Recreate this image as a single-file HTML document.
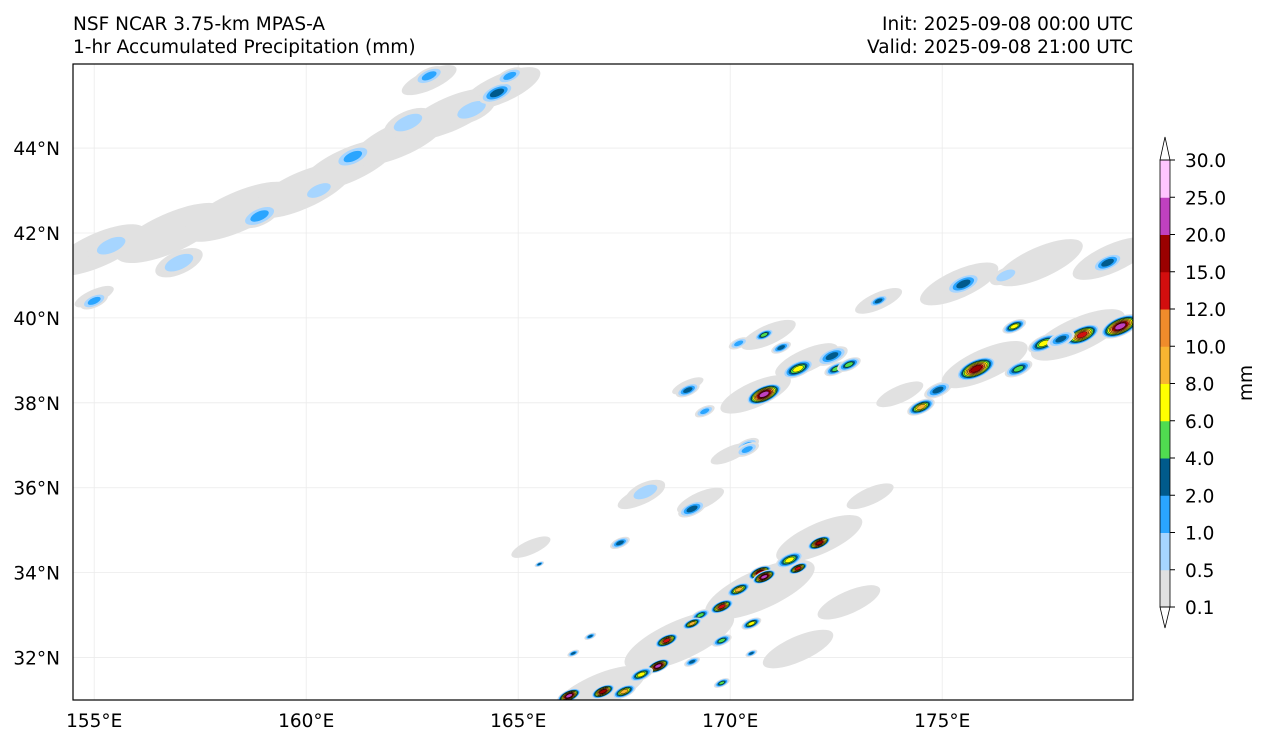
<!DOCTYPE html>
<html><head><meta charset="utf-8"><style>
body{margin:0;background:#fff;font-family:"Liberation Sans","DejaVu Sans",sans-serif;}
svg text{font-family:"DejaVu Sans","Liberation Sans",sans-serif;font-size:18.5px;fill:#000}
</style></head><body>
<svg id="chart" width="1268" height="745" viewBox="0 0 1268 745" xmlns="http://www.w3.org/2000/svg">
<text x="73" y="30">NSF NCAR 3.75-km MPAS-A</text>
<text x="73" y="53">1-hr Accumulated Precipitation (mm)</text>
<text x="1133" y="30" text-anchor="end">Init: 2025-09-08 00:00 UTC</text>
<text x="1133" y="53" text-anchor="end">Valid: 2025-09-08 21:00 UTC</text>
<defs><clipPath id="mapclip"><rect x="73" y="64" width="1060" height="636"/></clipPath></defs>
<g id="grid"></g>
<g id="cells" clip-path="url(#mapclip)"></g>
<rect x="73" y="64" width="1060" height="636" fill="none" stroke="#000" stroke-width="1.2"/>
<g id="axes"></g>
<g id="cbar"></g>
<text transform="translate(1252,383) rotate(-90)" text-anchor="middle">mm</text>
</svg>
<script>
const lonTicks=[155,160,165,170,175];
const latTicks=[32,34,36,38,40,42,44];
const levels=[0.1,0.5,1,2,4,6,8,10,12,15,20,25,30];
const levelColors=['#e1e1e1','#a6d5ff','#2aa5ff','#005a8c','#50dc50','#ffff00','#f8b431','#ef8c2b','#d20e0e','#9a0000','#c040c0','#ffc5ff'];
// broad light precipitation areas
const bandLon=[155.1,156.8,158.4,159.9,161.0,162.2,163.4,164.6,162.9,155.0,173.5,175.4,177.3,179.0,170.6,170.0,171.8,174.0,176.0,178.2,166.9,168.8,170.7,172.1,173.3,171.6,172.8,167.9,169.3,165.3,170.9,169.0];
const bandLat=[41.6,42.0,42.5,43.0,43.6,44.2,44.8,45.4,45.6,40.5,40.4,40.8,41.3,41.4,38.2,36.8,39.0,38.2,38.9,39.6,31.2,32.4,33.6,34.8,35.8,32.2,33.3,35.8,35.7,34.6,39.6,38.4];
const bandVal=[0.3,0.3,0.3,0.3,0.3,0.3,0.3,0.3,0.3,0.3,0.3,0.3,0.3,0.3,0.3,0.3,0.3,0.3,0.3,0.3,0.3,0.3,0.3,0.3,0.3,0.3,0.3,0.3,0.3,0.3,0.3,0.3];
const bandSize=[1.2,1.4,1.4,1.3,1.2,1.2,1.2,1.0,0.7,0.5,0.6,1.0,1.1,1.0,0.9,0.5,0.8,0.6,1.1,1.2,1.2,1.4,1.4,1.1,0.6,0.9,0.8,0.6,0.6,0.5,0.7,0.4];
// embedded cells
const cellLon=[155.4,155.0,157.0,158.9,160.3,161.1,162.4,163.9,164.5,164.8,162.9,
170.8,171.2,172.4,171.6,172.5,172.8,170.8,170.2,169.0,169.4,170.4,
175.5,178.9,173.5,176.5,
179.2,178.3,177.4,176.7,175.8,176.8,174.9,174.5,177.8,
172.1,171.4,170.7,170.2,169.8,169.3,169.1,168.5,168.3,167.9,167.5,167.0,166.2,169.1,169.8,170.5,170.8,171.6,166.3,166.7,170.5,169.8,
169.1,167.4,165.5,168.0,170.4];
const cellLat=[41.7,40.4,41.3,42.4,43.0,43.8,44.6,44.9,45.3,45.7,45.7,
38.2,39.3,39.1,38.8,38.8,38.9,39.6,39.4,38.3,37.8,37.0,
40.8,41.3,40.4,41.0,
39.8,39.6,39.4,39.8,38.8,38.8,38.3,37.9,39.5,
34.7,34.3,34.0,33.6,33.2,33.0,32.8,32.4,31.8,31.6,31.2,31.2,31.1,31.9,32.4,32.8,33.9,34.1,32.1,32.5,32.1,31.4,
35.5,34.7,34.2,35.9,36.9];
const cellVal=[0.8,1.5,0.8,1.5,0.8,1.5,0.8,0.8,3,1.5,1.5,
20,3,2.5,7,5,5,5,1.5,3,1.5,1.5,
3,3,3,0.8,
20,12,6,6,15,5,3,8,3,
15,6,15,8,12,5,8,12,20,6,8,15,20,3,5,6,20,12,3,3,3,5,
2.5,2.5,3,0.8,1.5];
const cellSize=[0.6,0.35,0.6,0.5,0.5,0.5,0.6,0.6,0.45,0.35,0.4,
0.45,0.25,0.4,0.4,0.3,0.3,0.25,0.25,0.3,0.25,0.3,
0.45,0.4,0.25,0.4,
0.5,0.45,0.4,0.3,0.5,0.35,0.35,0.35,0.35,
0.3,0.35,0.3,0.3,0.3,0.25,0.25,0.3,0.3,0.3,0.3,0.3,0.3,0.2,0.25,0.25,0.3,0.25,0.15,0.15,0.15,0.2,
0.35,0.25,0.12,0.5,0.3];

const x0=73,x1=1133,y0=64,y1=700,lon0=154.5,lon1=179.5,lat0=31.0,lat1=45.98;
const xs=l=>x0+(l-lon0)/(lon1-lon0)*(x1-x0);
const ys=l=>y1-(l-lat0)/(lat1-lat0)*(y1-y0);
const pxPerDeg=(x1-x0)/(lon1-lon0);
const NS='http://www.w3.org/2000/svg';
function mk(tag,attrs,parent){const e=document.createElementNS(NS,tag);for(const k in attrs)e.setAttribute(k,attrs[k]);parent.appendChild(e);return e;}
function levIdx(v){let k=0;for(let i=0;i<levels.length-1;i++)if(v>=levels[i])k=i;return k;}

const grid=document.getElementById('grid'),axes=document.getElementById('axes');
lonTicks.forEach(t=>{const x=xs(t);
 const g=mk('line',{x1:x,x2:x,y1:y0,y2:y1,stroke:'#ebebeb','stroke-width':0.8},grid);
 
 const tx=mk('text',{x:x,y:727,'text-anchor':'middle'},axes);tx.textContent=t+'°E';
 });
latTicks.forEach(t=>{const y=ys(t);
 const g=mk('line',{x1:x0,x2:x1,y1:y,y2:y,stroke:'#ebebeb','stroke-width':0.8},grid);
 
 const tx=mk('text',{x:x0-13,y:y+7,'text-anchor':'end'},axes);tx.textContent=t+'°N';
 });

const cg=document.getElementById('cells');
function drawSet(L,A,V,S,name,asp){
 for(let i=0;i<L.length;i++){
  const k=levIdx(V[i]);const cx=xs(L[i]),cy=ys(A[i]);
  for(let j=0;j<=k;j++){
   const f=1-j/(k+1)*0.8;const rx=S[i]*pxPerDeg*f,ry=rx*asp;
   const e=mk('ellipse',{cx:cx,cy:cy,rx:rx,ry:ry,fill:levelColors[j],transform:'rotate(-24 '+cx+' '+cy+')',stroke:j>=4?'#000':'none','stroke-width':0.4},cg);
   
   
  }}}
drawSet(bandLon,bandLat,bandVal,bandSize,'light-precip-area',0.33);
drawSet(cellLon,cellLat,cellVal,cellSize,'precip-cell',0.45);

// colorbar
const cb=document.getElementById('cbar');const cbx=1160,cbw=10,cbTop=160,cbBot=607;
const seg=(cbBot-cbTop)/(levels.length-1);
levelColors.forEach((c,i)=>{const r=mk('rect',{x:cbx,y:cbBot-(i+1)*seg,width:cbw,height:seg+0.5,fill:c},cb);
 });
const tt=mk('path',{d:`M${cbx} ${cbTop} L${cbx+cbw/2} 137 L${cbx+cbw} ${cbTop} Z`,fill:'#fff',stroke:'#000','stroke-width':0.8},cb);

const bt=mk('path',{d:`M${cbx} ${cbBot} L${cbx+cbw/2} 628 L${cbx+cbw} ${cbBot} Z`,fill:'#fff',stroke:'#000','stroke-width':0.8},cb);

const fr=mk('rect',{x:cbx,y:cbTop,width:cbw,height:cbBot-cbTop,fill:'none',stroke:'#000','stroke-width':0.8},cb);

levels.forEach((v,i)=>{const y=cbBot-i*seg;
 const tk=mk('line',{x1:cbx+cbw,x2:cbx+cbw+5,y1:y,y2:y,stroke:'#000'},cb);
 
 const tx=mk('text',{x:1185,y:y+7},cb);tx.textContent=v.toFixed(1);
 });
</script>
</body></html>
